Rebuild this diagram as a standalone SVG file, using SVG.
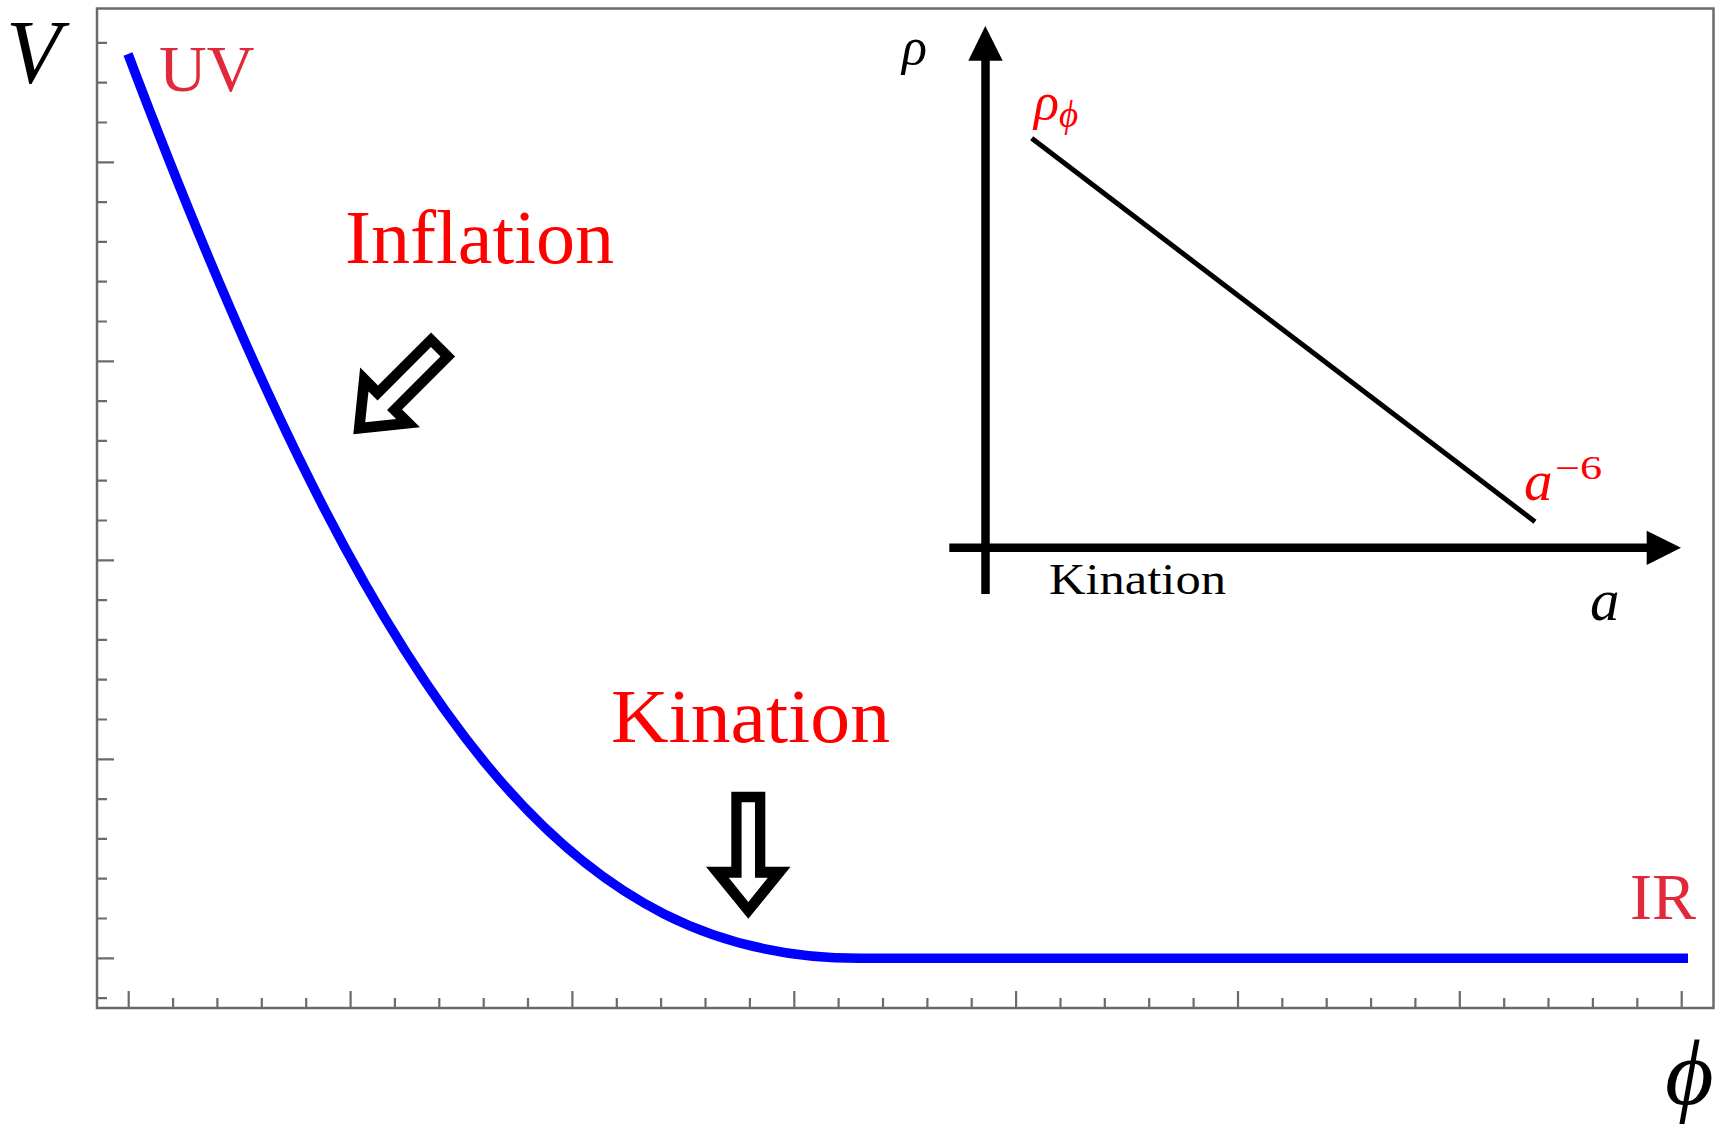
<svg xmlns="http://www.w3.org/2000/svg" xmlns:xlink="http://www.w3.org/1999/xlink" width="1724" height="1125" viewBox="0 0 1724 1125">
<style>
  .tx { font-family: "Liberation Serif", "DejaVu Serif", serif; }
  .it { font-style: italic; }
  .red { fill: #ff0000; }
  .crim { fill: #e02a3c; }
  .blk { fill: #000000; }
  .frame { fill: none; stroke: #6b6b6b; stroke-width: 2.5; }
  .tick { fill: none; stroke: #6b6b6b; stroke-width: 2.2; }
  .curve { fill: none; stroke: #0000ff; stroke-width: 9.5; stroke-linejoin: round; }
  .ax { fill: none; stroke: #000; stroke-width: 8.5; }
</style>
<defs>
  <path id="hollowArrow" fill="#000" fill-rule="evenodd" d="M -17 -127 L 17 -127 L 17 -52 L 42.3 -52 L 0 0 L -42.3 -52 L -17 -52 Z M -6.7 -116.5 L 6.7 -116.5 L 6.7 -41 L 19.5 -41 L 0 -16.8 L -19.5 -41 L -6.7 -41 Z"/>
</defs>
<rect width="1724" height="1125" fill="#ffffff"/>

<g id="plot-frame">
  <rect class="frame" x="97" y="8.5" width="1616.5" height="999.5"/>
  <path class="tick" d="M97 42.9h10 M97 82.7h10 M97 122.5h10 M97 162.3h17 M97 202.1h10 M97 241.9h10 M97 281.7h10 M97 321.5h10 M97 361.3h17 M97 401.1h10 M97 440.9h10 M97 480.7h10 M97 520.5h10 M97 560.3h17 M97 600.1h10 M97 639.9h10 M97 679.7h10 M97 719.5h10 M97 759.3h17 M97 799.1h10 M97 838.9h10 M97 878.7h10 M97 918.5h10 M97 958.3h17 M97 998.1h10"/>
  <path class="tick" d="M128.7 1008v-17 M173.1 1008v-10 M217.4 1008v-10 M261.8 1008v-10 M306.2 1008v-10 M350.6 1008v-17 M394.9 1008v-10 M439.3 1008v-10 M483.7 1008v-10 M528 1008v-10 M572.4 1008v-17 M616.8 1008v-10 M661.1 1008v-10 M705.5 1008v-10 M749.9 1008v-10 M794.3 1008v-17 M838.6 1008v-10 M883 1008v-10 M927.4 1008v-10 M971.7 1008v-10 M1016.1 1008v-17 M1060.5 1008v-10 M1104.8 1008v-10 M1149.2 1008v-10 M1193.6 1008v-10 M1238 1008v-17 M1282.3 1008v-10 M1326.7 1008v-10 M1371.1 1008v-10 M1415.4 1008v-10 M1459.8 1008v-17 M1504.2 1008v-10 M1548.5 1008v-10 M1592.9 1008v-10 M1637.3 1008v-10 M1681.7 1008v-17"/>
</g>

<g id="axis-labels">
  <text class="tx it blk" x="6" y="83" font-size="90">V</text>
  <text class="tx it blk" x="1665" y="1104" font-size="94">ϕ</text>
</g>

<g id="potential-curve">
  <path class="curve" d="M128 54 C388 743 580 958.3 860 958.3 L1688 958.3"/>
</g>

<g id="label-UV"><text class="tx crim" x="159" y="91" font-size="66">UV</text></g>
<g id="label-IR"><text class="tx crim" x="1630" y="919" font-size="66">IR</text></g>
<g id="label-inflation"><text class="tx red" x="345" y="263" font-size="77" textLength="269" lengthAdjust="spacingAndGlyphs">Inflation</text></g>
<g id="label-kination"><text class="tx red" x="611" y="742" font-size="76" textLength="279" lengthAdjust="spacingAndGlyphs">Kination</text></g>

<g id="inset">
  <line class="ax" x1="985.5" y1="594" x2="985.5" y2="58"/>
  <polygon points="985.3,26 968.3,60.7 1002.7,60.7" fill="#000"/>
  <line class="ax" x1="949.3" y1="547.8" x2="1649" y2="547.8"/>
  <polygon points="1681,547.8 1646.7,530.7 1646.7,565" fill="#000"/>
  <line x1="1031.7" y1="138.3" x2="1535" y2="521.7" stroke="#000" stroke-width="5"/>
  <text class="tx it blk" x="902" y="64" font-size="52">ρ</text>
  <text class="tx it red" x="1034" y="119" font-size="52">ρ</text>
  <text class="tx it red" x="1059" y="127" font-size="37">ϕ</text>
  <text class="tx it red" x="1524" y="500" font-size="57">a</text>
  <text class="tx red" x="1555" y="479" font-size="33" textLength="47" lengthAdjust="spacingAndGlyphs">−6</text>
  <text class="tx it blk" x="1590" y="620" font-size="59">a</text>
  <text class="tx blk" x="1049" y="594" font-size="45" textLength="177" lengthAdjust="spacingAndGlyphs">Kination</text>
</g>

<g id="connectors">
  <use xlink:href="#hollowArrow" transform="translate(353.3 434.2) rotate(45)"/>
  <use xlink:href="#hollowArrow" transform="translate(748.3 918.75)"/>
</g>
</svg>
